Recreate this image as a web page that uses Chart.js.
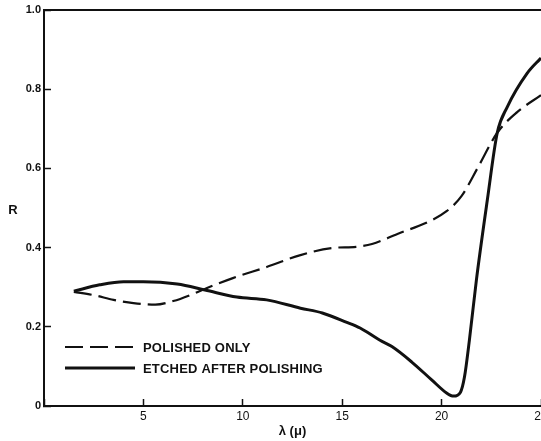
<!DOCTYPE html>
<html>
<head>
<meta charset="utf-8">
<script src="https://cdn.jsdelivr.net/npm/chart.js@4"></script>
<style>
  body { margin: 0; overflow: hidden; background: #fff; }
  canvas { display: block; }
</style>
</head>
<body>
<canvas id="myChart" width="560" height="441"></canvas>
<script>
// wavelength (micron) and reflectance readings
const polishedX = [1.5, 2.5, 3.5, 4.5, 5.6, 6.5, 7.5, 8.2, 9.5, 11.2, 12.9, 14.5, 15.7, 16.5, 17.9, 19.2, 20.25, 21.0, 21.8, 22.8, 23.8, 25];
const polishedR = [0.288, 0.28, 0.268, 0.26, 0.256, 0.265, 0.283, 0.298, 0.323, 0.351, 0.381, 0.399, 0.402, 0.409, 0.437, 0.462, 0.492, 0.53, 0.6, 0.69, 0.742, 0.785];
const etchedX = [1.5, 2.8, 4.0, 5.0, 6.7, 8.1, 9.7, 11.2, 12.9, 14.0, 15.2, 15.9, 16.9, 17.5, 18.5, 19.5, 20.25, 20.6, 20.95, 21.15, 21.4, 21.75, 22.3, 22.8, 23.3, 24.3, 25];
const etchedR = [0.29, 0.306, 0.314, 0.314, 0.308, 0.293, 0.275, 0.268, 0.247, 0.235, 0.212, 0.197, 0.166, 0.15, 0.111, 0.066, 0.033, 0.025, 0.035, 0.073, 0.167, 0.318, 0.52, 0.69, 0.755, 0.84, 0.879];
const seriesNames = ['POLISHED ONLY', 'ETCHED AFTER POLISHING'];
const xTitle = 'λ (μ)';
const yTitle = 'R';

const ink = '#111';
const pts = (xs, ys) => xs.map((x, i) => ({ x: x, y: ys[i] }));

// top frame line, upright "R" and the legend inside the plot
const decor = {
    id: 'decor',
    afterDraw(chart) {
        const ctx = chart.ctx;
        const a = chart.chartArea;
        ctx.save();
        ctx.strokeStyle = ink;
        ctx.fillStyle = ink;
        ctx.lineWidth = 2;
        ctx.beginPath();
        ctx.moveTo(a.left - 1, a.top);
        ctx.lineTo(a.right + 20, a.top);
        ctx.stroke();

        ctx.font = 'bold 13px "Liberation Sans"';
        ctx.textAlign = 'center';
        ctx.textBaseline = 'middle';
        ctx.fillText(yTitle, 13, chart.scales.y.getPixelForValue(0.495));

        ctx.font = 'bold 13px "Liberation Sans"';
        ctx.letterSpacing = '0.2px';
        chart.data.datasets.forEach((ds, i) => {
            const y = a.bottom - 59 + i * 21;
            ctx.setLineDash(ds.borderDash || []);
            ctx.lineWidth = ds.borderWidth;
            ctx.beginPath();
            ctx.moveTo(a.left + 21, y);
            ctx.lineTo(a.left + 91, y);
            ctx.stroke();
            ctx.setLineDash([]);
            ctx.textAlign = 'left';
            ctx.fillText(ds.label, a.left + 99, y + 1);
        });
        ctx.restore();
    }
};

const ctx = document.getElementById('myChart').getContext('2d');
const ch = new Chart(ctx, {
    type: 'line',
    data: {
        datasets: [{
            label: seriesNames[0],
            data: pts(polishedX, polishedR),
            borderColor: ink,
            borderWidth: 2.2,
            borderDash: [18, 7],
            pointRadius: 0,
            cubicInterpolationMode: 'monotone',
            fill: false
        }, {
            label: seriesNames[1],
            data: pts(etchedX, etchedR),
            borderColor: ink,
            borderWidth: 3,
            pointRadius: 0,
            cubicInterpolationMode: 'monotone',
            fill: false
        }]
    },
    options: {
        responsive: false,
        animation: false,
        layout: { padding: { top: 10, right: 19, left: 0, bottom: 0 } },
        plugins: {
            legend: { display: false },
            tooltip: { enabled: false }
        },
        scales: {
            x: {
                type: 'linear',
                min: 0,
                max: 25,
                afterFit: (s) => { s.height = 35; },
                ticks: {
                    stepSize: 5,
                    autoSkip: false,
                    maxRotation: 0,
                    padding: 10,
                    color: ink,
                    font: { family: 'Liberation Sans', size: 12 },
                    callback: (v) => (v === 0 ? '' : String(v))
                },
                grid: { drawOnChartArea: false, tickLength: -7, tickWidth: 1.5, tickColor: ink },
                border: { display: true, width: 2, color: ink },
                title: {
                    display: true,
                    text: xTitle,
                    color: ink,
                    padding: { top: 0, bottom: 2 },
                    font: { family: 'Liberation Sans', size: 13, weight: 'bold' }
                }
            },
            y: {
                min: 0,
                max: 1,
                afterFit: (s) => { s.width = 44; s.paddingTop = 0; s.paddingBottom = 0; },
                ticks: {
                    stepSize: 0.2,
                    padding: 10,
                    color: ink,
                    font: { family: 'Liberation Sans', size: 11, weight: 'bold' },
                    callback: (v) => (v === 0 ? '0' : v.toFixed(1))
                },
                grid: { drawOnChartArea: false, tickLength: -7, tickWidth: 1.5, tickColor: ink },
                border: { display: true, width: 2, color: ink }
            }
        }
    },
    plugins: [decor]
});
</script>
</body>
</html>
